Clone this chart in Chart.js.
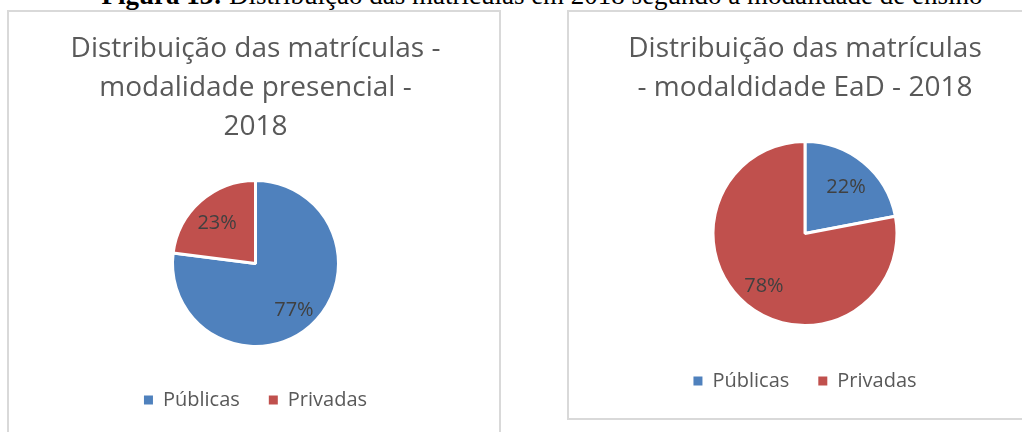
<!DOCTYPE html>
<html lang="pt-BR">
<head>
  <meta charset="UTF-8">
  <title>Distribuição das matrículas 2018</title>
  <script src="https://cdn.jsdelivr.net/npm/chart.js"></script>
  <style>
    body {
      margin: 0;
      width: 1022px;
      height: 432px;
      overflow: hidden;
      background: #ffffff;
      position: relative;
    }
    .legenda-figura {
      position: absolute;
      top: -17px;
      left: 0;
      width: 1084px;
      text-align: center;
      font-family: "Liberation Serif", "Times New Roman", serif;
      font-size: 27px;
      line-height: 24px;
      color: #000;
      white-space: nowrap;
    }
    .caixa {
      position: absolute;
      border: 2px solid #d9d9d9;
      box-sizing: border-box;
    }
    canvas {
      position: absolute;
    }
  </style>
</head>
<body>
  <div class="legenda-figura"><b>Figura 13:</b> Distribuição das matrículas em 2018 segundo a modalidade de ensino</div>

  <div class="caixa" style="left:7px; top:10px; width:494px; height:440px;"></div>
  <div class="caixa" style="left:567px; top:10px; width:480px; height:410px;"></div>

  <canvas id="graficoPresencial" width="493" height="430" style="left:7px; top:10px;"></canvas>
  <canvas id="graficoEad" width="472" height="409" style="left:567px; top:10px;"></canvas>

  <script>
    const categorias = ['Públicas', 'Privadas'];
    const presencial = [77, 23];
    const ead = [22, 78];
    const tituloPresencial = ['Distribuição das matrículas -', 'modalidade presencial -', '2018'];
    const tituloEad = ['Distribuição das matrículas', '- modaldidade EaD - 2018'];

    const cores = ['#4f81bd', '#c0504d'];
    const fonte = '"Open Sans", "Noto Sans", sans-serif';

    // rótulos de porcentagem dentro das fatias
    const rotulosPlugin = {
      id: 'rotulos',
      afterDatasetsDraw(chart) {
        const ctx = chart.ctx;
        const meta = chart.getDatasetMeta(0);
        const valores = chart.data.datasets[0].data;
        ctx.save();
        ctx.font = '20px ' + fonte;
        ctx.fillStyle = '#404040';
        ctx.textAlign = 'center';
        ctx.textBaseline = 'middle';
        meta.data.forEach((arco, i) => {
          const p = arco.getProps(['x', 'y', 'startAngle', 'endAngle', 'outerRadius']);
          const meio = (p.startAngle + p.endAngle) / 2;
          const r = p.outerRadius * 0.7;
          ctx.fillText(valores[i] + '%', p.x + Math.cos(meio) * r, p.y + Math.sin(meio) * r + 3);
        });
        ctx.restore();
      }
    };

    function gerarGrafico(id, titulo, dados, raio, padTitulo, padBaixo) {
      return new Chart(document.getElementById(id), {
        type: 'pie',
        data: {
          labels: categorias,
          datasets: [{
            data: dados,
            backgroundColor: cores,
            borderColor: '#ffffff',
            borderWidth: 3,
            hoverOffset: 0,
            radius: raio
          }]
        },
        options: {
          responsive: false,
          animation: false,
          layout: { padding: { bottom: padBaixo, left: 4 } },
          plugins: {
            title: {
              display: true,
              text: titulo,
              color: '#595959',
              font: { family: fonte, size: 28, weight: 'normal', lineHeight: '39px' },
              padding: { top: 20, bottom: padTitulo }
            },
            legend: {
              position: 'bottom',
              labels: {
                boxWidth: 9,
                boxHeight: 9,
                padding: 29,
                color: '#595959',
                font: { family: fonte, size: 20 },
                generateLabels(chart) {
                  const itens = Chart.overrides.pie.plugins.legend.labels.generateLabels(chart);
                  itens.forEach(item => { item.lineWidth = 0; item.strokeStyle = 'transparent'; });
                  return itens;
                }
              }
            },
            tooltip: { enabled: false }
          }
        },
        plugins: [rotulosPlugin]
      });
    }

    gerarGrafico('graficoPresencial', tituloPresencial, presencial, 83, 19, 20);
    gerarGrafico('graficoEad', tituloEad, ead, 92, 17, 18);
  </script>
</body>
</html>
